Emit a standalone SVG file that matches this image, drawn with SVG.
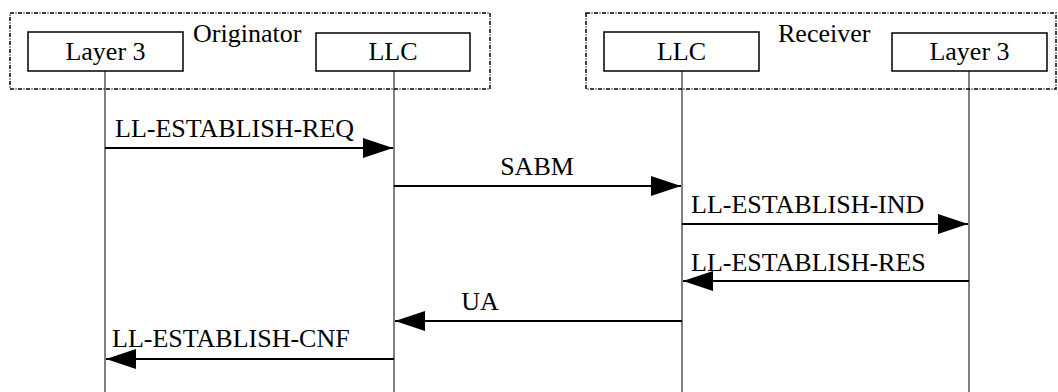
<svg xmlns="http://www.w3.org/2000/svg" width="1058" height="392" viewBox="0 0 1058 392">
<style>
  .grp { fill: none; stroke: #000; stroke-width: 1.5; stroke-dasharray: 4 1.5 1 1.5; }
  .box { fill: #fff; stroke: #000; stroke-width: 1.5; }
  .life { stroke: #000; stroke-width: 1; fill: none; }
  .msg { stroke: #000; stroke-width: 2; fill: none; marker-end: url(#ah); }
</style>
<defs>
  <marker id="ah" markerUnits="userSpaceOnUse" markerWidth="30" markerHeight="20" viewBox="0 0 30 20" refX="30" refY="10" orient="auto">
    <path d="M0,0 L30,10 L0,20 z" fill="#000"/>
  </marker>
</defs>
<rect fill="#fff" x="0" y="0" width="1058" height="392"/>
<g font-family="Liberation Serif" font-size="26" fill="#000">
<g id="originator">
  <rect class="grp" x="10" y="13" width="480" height="76"/>
  <text x="193" y="42">Originator</text>
</g>
<g id="receiver">
  <rect class="grp" x="586" y="13" width="470" height="76"/>
  <text x="778" y="42">Receiver</text>
</g>
<g id="lifelines">
  <line class="life" x1="105" y1="71" x2="105" y2="392"/>
  <line class="life" x1="394" y1="71" x2="394" y2="392"/>
  <line class="life" x1="682" y1="71" x2="682" y2="392"/>
  <line class="life" x1="969" y1="71" x2="969" y2="392"/>
</g>
<g id="orig-layer3">
  <rect class="box" x="28" y="32" width="155" height="39"/>
  <text x="105.5" y="60" text-anchor="middle">Layer 3</text>
</g>
<g id="orig-llc">
  <rect class="box" x="316" y="33" width="154" height="38"/>
  <text x="393" y="60" text-anchor="middle">LLC</text>
</g>
<g id="recv-llc">
  <rect class="box" x="604" y="32" width="155" height="39"/>
  <text x="681.5" y="60" text-anchor="middle">LLC</text>
</g>
<g id="recv-layer3">
  <rect class="box" x="892" y="33" width="155" height="38"/>
  <text x="969.5" y="60" text-anchor="middle">Layer 3</text>
</g>
<g id="connectors">
  <line class="msg" x1="105" y1="148" x2="393" y2="148"/>
  <line class="msg" x1="394" y1="186" x2="681" y2="186"/>
  <line class="msg" x1="682" y1="224" x2="968" y2="224"/>
  <line class="msg" x1="969" y1="281" x2="683" y2="281"/>
  <line class="msg" x1="682" y1="321" x2="395" y2="321"/>
  <line class="msg" x1="394" y1="359" x2="106" y2="359"/>
</g>
<g id="labels">
  <text x="115" y="137">LL-ESTABLISH-REQ</text>
  <text x="537" y="175" text-anchor="middle">SABM</text>
  <text x="691" y="213">LL-ESTABLISH-IND</text>
  <text x="691" y="271">LL-ESTABLISH-RES</text>
  <text x="480" y="310" text-anchor="middle">UA</text>
  <text x="112" y="347">LL-ESTABLISH-CNF</text>
</g>
</g>
</svg>
